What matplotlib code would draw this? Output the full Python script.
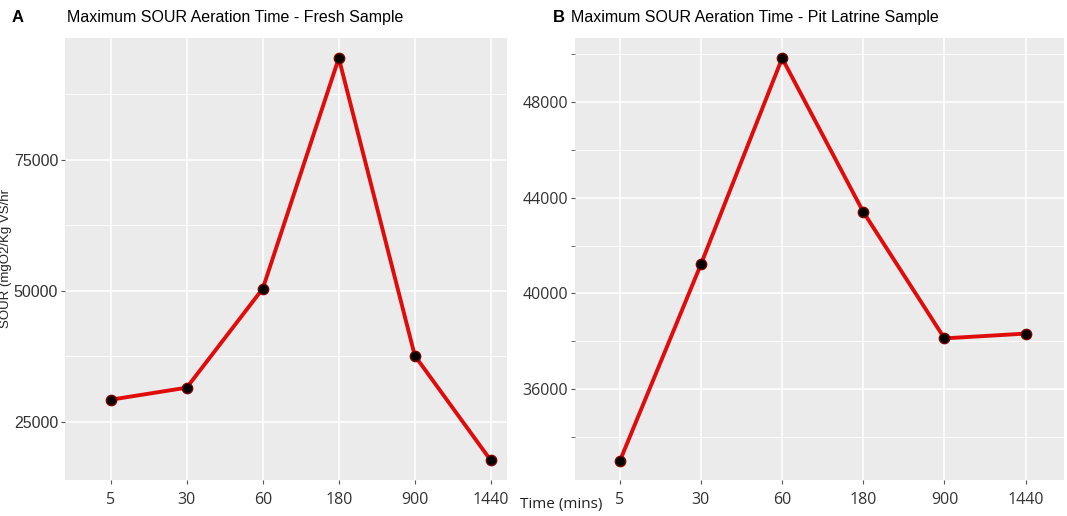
import matplotlib.pyplot as plt
from matplotlib.ticker import MultipleLocator

times = ["5", "30", "60", "180", "900", "1440"]
fresh_sour = [29200, 31500, 50400, 94400, 37600, 17600]
pit_sour = [32980, 41220, 49840, 43410, 38120, 38320]

fresh_ticks = [25000, 50000, 75000]
pit_ticks = [36000, 40000, 44000, 48000]

bg = "#EBEBEB"
line_red = "#E00C0C"


def style_panel(ax):
    ax.set_facecolor(bg)
    for s in ax.spines.values():
        s.set_visible(False)
    ax.grid(True, which="major", color="white", lw=1.1)
    ax.grid(True, which="minor", color="white", lw=0.6)
    ax.set_axisbelow(True)
    ax.tick_params(axis="both", which="both", length=3, color="#555555", labelcolor="#333333")
    ax.tick_params(axis="x", labelsize=11.5, pad=6)
    ax.tick_params(axis="y", labelsize=11.5, pad=2)


fig = plt.figure(figsize=(10.67, 5.16), dpi=100)
fig.patch.set_facecolor("white")

axA = fig.add_axes([0.061, 0.07, 0.414, 0.857])
axB = fig.add_axes([0.539, 0.07, 0.458, 0.857])

for ax, vals in ((axA, fresh_sour), (axB, pit_sour)):
    style_panel(ax)
    x = list(range(len(times)))
    ax.plot(x, vals, color=line_red, lw=2.8, zorder=3)
    ax.scatter(x, vals, s=55, color="black", edgecolor="#7a0000", lw=1, zorder=4)
    ax.set_xticks(x)
    ax.set_xticklabels(times, family="Open Sans")

axA.set_xlim(-0.6, 5.21)
axA.set_ylim(13900, 98300)
axA.set_yticks(fresh_ticks)
axA.yaxis.set_minor_locator(MultipleLocator(12500))
axA.tick_params(axis="y", which="minor", length=0)
axA.set_yticklabels([f"{v}" for v in fresh_ticks], family="Liberation Sans")

axB.set_xlim(-0.55, 5.47)
axB.set_ylim(32200, 50700)
axB.set_yticks(pit_ticks)
axB.yaxis.set_minor_locator(MultipleLocator(2000))
axB.set_yticklabels([f"{v}" for v in pit_ticks], family="Open Sans")

fig.text(0.011, 0.957, "A", fontsize=12, fontweight="bold", family="Liberation Sans")
fig.text(0.063, 0.957, "Maximum SOUR Aeration Time - Fresh Sample", fontsize=11.5,
         family="Liberation Sans")
fig.text(0.518, 0.957, "B", fontsize=12, fontweight="bold", family="Liberation Sans")
fig.text(0.535, 0.957, "Maximum SOUR Aeration Time - Pit Latrine Sample", fontsize=11.5,
         family="Liberation Sans")

fig.text(0.006, 0.5, "SOUR (mgO2/Kg VS/hr", rotation=90, fontsize=9.5,
         family="Liberation Sans", va="center", ha="center", color="#222222")
fig.text(0.487, 0.015, "Time (mins)", fontsize=11, family="Open Sans", color="#222222")

fig.savefig("out.png", dpi=100)
